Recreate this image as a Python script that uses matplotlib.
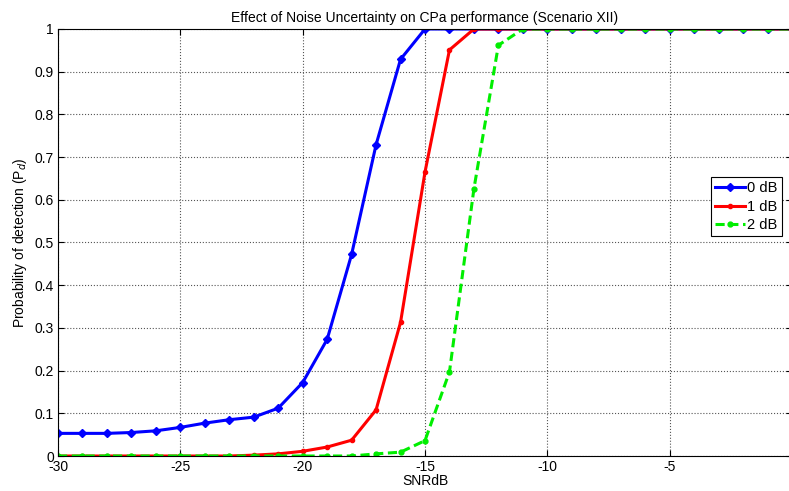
import matplotlib
matplotlib.use("Agg")
import matplotlib.pyplot as plt
import numpy as np

plt.rcParams['font.family'] = ['Liberation Sans', 'DejaVu Sans']

snr = list(range(-30, 1))
pd_0db = [0.053, 0.053, 0.053, 0.055, 0.059, 0.067, 0.077, 0.085, 0.091, 0.112,
          0.172, 0.273, 0.472, 0.729, 0.929, 1.0, 1.0, 1.0, 1.0, 1.0,
          1.0, 1.0, 1.0, 1.0, 1.0, 1.0, 1.0, 1.0, 1.0, 1.0, 1.0]
pd_1db = [0.0, 0.0, 0.0, 0.0, 0.0, 0.0, 0.0, 0.0, 0.002, 0.005,
          0.011, 0.021, 0.037, 0.108, 0.313, 0.665, 0.951, 1.0, 1.0, 1.0,
          1.0, 1.0, 1.0, 1.0, 1.0, 1.0, 1.0, 1.0, 1.0, 1.0, 1.0]
pd_2db = [0.0, 0.0, 0.0, 0.0, 0.0, 0.0, 0.0, 0.0, 0.0, 0.0,
          0.0, 0.0, 0.0, 0.005, 0.009, 0.036, 0.197, 0.626, 0.962, 1.0,
          1.0, 1.0, 1.0, 1.0, 1.0, 1.0, 1.0, 1.0, 1.0, 1.0, 1.0]
labels = ['0 dB', '1 dB', '2 dB']
xticks = [-30, -25, -20, -15, -10, -5, 0]
yticks = [0, 0.1, 0.2, 0.3, 0.4, 0.5, 0.6, 0.7, 0.8, 0.9, 1]
ytick_labels = ['0', '0.1', '0.2', '0.3', '0.4', '0.5', '0.6', '0.7', '0.8', '0.9', '1']

fig = plt.figure(figsize=(7.89, 4.91), dpi=100)
ax = fig.add_axes([58/789, 1-456/491, (792-58)/789, (456-29)/491])

ax.plot(snr, pd_0db, color='#0000ff', lw=2.2, marker='D', ms=4, label=labels[0])
ax.plot(snr, pd_1db, color='#ff0000', lw=2.2, marker='.', ms=6, label=labels[1])
ax.plot(snr, pd_2db, color='#00ee00', lw=2.2, ls='--', marker='.', ms=7,
        dashes=(3, 1.5), label=labels[2])

ax.set_xlim(-30, 0)
ax.set_ylim(0, 1)
ax.set_xticks(xticks)
ax.set_xticklabels([str(t) for t in xticks])
ax.set_yticks(yticks)
ax.set_yticklabels(ytick_labels)
ax.grid(True, color='#555555', ls=':', lw=0.8)
ax.tick_params(direction='in', top=True, right=True, labelsize=10, length=4, pad=3)
for s in ax.spines.values():
    s.set_linewidth(0.8)

ax.set_title('Effect of Noise Uncertainty on CPa performance (Scenario XII)', fontsize=10, pad=5)
ax.set_xlabel('SNRdB', fontsize=10, labelpad=0)
ax.set_ylabel('Probability of detection (P$_d$)', fontsize=10, labelpad=4)

leg = ax.legend(loc='upper left', bbox_to_anchor=((711-58)/734, 1-(177-29)/427),
                fontsize=10.5, fancybox=False, framealpha=1, edgecolor='black',
                handlelength=2.0, borderpad=0.3, labelspacing=0.3, handletextpad=0.2,
                borderaxespad=0)
leg.get_frame().set_linewidth(0.8)

fig.savefig('out.png', dpi=100)
